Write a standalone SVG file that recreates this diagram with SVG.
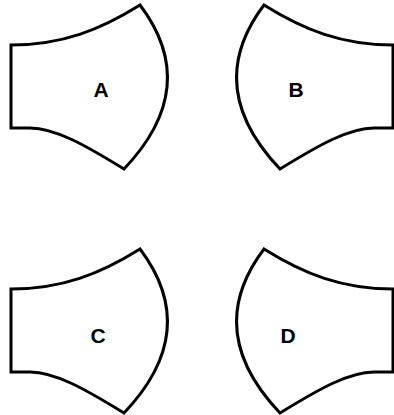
<svg xmlns="http://www.w3.org/2000/svg" width="394" height="415" viewBox="0 0 394 415">
<defs>
<style>
.shape{fill:#ffffff;stroke:#000000;stroke-width:3;stroke-linejoin:miter}
.lbl{font-family:"Liberation Sans",Arial,sans-serif;font-weight:bold;font-size:21px;fill:#000000;text-anchor:middle;dominant-baseline:central}
</style>
<path id="blade" d="M11,45 C62,45 100,30 140,5 Q202,87 124,169 C85,145 55,128 30,128 L11,128 Z"/>
</defs>
<rect width="394" height="415" fill="#ffffff"/>
<g id="node-A">
<use href="#blade" class="shape"/>
<text class="lbl" x="101" y="89">A</text>
</g>
<g id="node-B">
<use href="#blade" class="shape" transform="matrix(-1,0,0,1,404,0)"/>
<text class="lbl" x="296" y="89">B</text>
</g>
<g id="node-C">
<use href="#blade" class="shape" transform="translate(0,244)"/>
<text class="lbl" x="98" y="335">C</text>
</g>
<g id="node-D">
<use href="#blade" class="shape" transform="matrix(-1,0,0,1,404,244)"/>
<text class="lbl" x="288" y="335">D</text>
</g>
<g id="connectors"></g>
</svg>
